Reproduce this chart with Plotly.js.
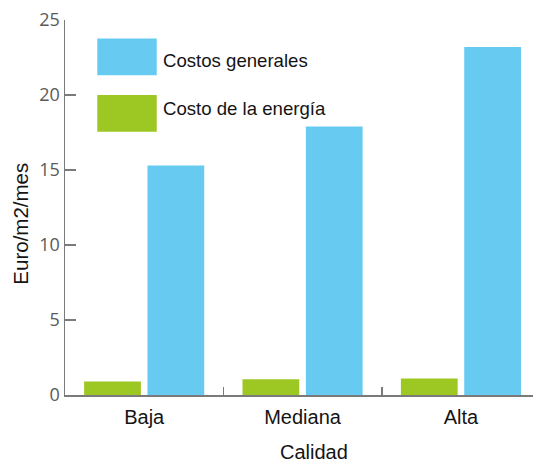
<!DOCTYPE html>
<html>
<head>
<meta charset="utf-8">
<script src="https://cdn.plot.ly/plotly-3.0.1.min.js"></script>
<style>
  html, body { margin: 0; padding: 0; background: #ffffff; }
  #chart { width: 535px; height: 462px; }
</style>
</head>
<body>
<div id="chart"></div>
<script>
// Calidad de la construcción
const categorias = ['Baja', 'Mediana', 'Alta'];

// Euro/m2/mes por categoría
const costoEnergia = [0.9, 1.05, 1.1];
const costosGenerales = [15.3, 17.9, 23.2];

const nombreEnergia = 'Costo de la energía';
const nombreGenerales = 'Costos generales';

const yTicks = [0, 5, 10, 15, 20, 25];

const AZUL = '#67cbf1';
const VERDE = '#9dc723';
const TEXTO = '#141414';
const EJE = '#7a7a7a';
const FUENTE = 'Liberation Sans, Arial, sans-serif';

const traces = [
  {
    type: 'bar',
    name: nombreEnergia,
    x: categorias,
    y: costoEnergia,
    marker: { color: VERDE, line: { width: 0 } },
    showlegend: false,
    hoverinfo: 'x+y+name'
  },
  {
    type: 'bar',
    name: nombreGenerales,
    x: categorias,
    y: costosGenerales,
    marker: { color: AZUL, line: { width: 0 } },
    showlegend: false,
    hoverinfo: 'x+y+name'
  }
];

// Leyenda dibujada con rectángulos grandes y texto a su derecha
const leyenda = [
  { nombre: nombreGenerales, color: AZUL, y0: 0.853, y1: 0.951, yt: 0.891 },
  { nombre: nombreEnergia, color: VERDE, y0: 0.702, y1: 0.800, yt: 0.763 }
];

const shapes = leyenda.map(l => ({
  type: 'rect', xref: 'paper', yref: 'paper',
  x0: 0.069, x1: 0.196, y0: l.y0, y1: l.y1,
  fillcolor: l.color, line: { width: 0 }
}));

const annotations = leyenda.map(l => ({
  xref: 'paper', yref: 'paper', x: 0.205, y: l.yt,
  xanchor: 'left', yanchor: 'middle', showarrow: false,
  text: l.nombre,
  font: { family: FUENTE, size: 18.6, color: TEXTO }
}));

annotations.push({
  xref: 'paper', yref: 'paper', x: -0.094, y: 0.457,
  xanchor: 'center', yanchor: 'middle', showarrow: false,
  textangle: -90,
  text: 'Euro/m2/mes',
  font: { family: FUENTE, size: 20.5, color: TEXTO }
});

annotations.push({
  xref: 'paper', yref: 'paper', x: 0.532, y: -0.151,
  xanchor: 'center', yanchor: 'middle', showarrow: false,
  text: 'Calidad',
  font: { family: FUENTE, size: 20, color: TEXTO }
});

const layout = {
  width: 535,
  height: 462,
  margin: { l: 65, r: 2, t: 20, b: 67, pad: 0 },
  paper_bgcolor: '#ffffff',
  plot_bgcolor: '#ffffff',
  barmode: 'group',
  bargap: 0.2,
  bargroupgap: 0.104,
  showlegend: false,
  xaxis: {
    type: 'category',
    range: [-0.5, 2.455],
    showline: true,
    linecolor: EJE,
    linewidth: 1.5,
    ticks: 'inside',
    tickson: 'boundaries',
    ticklen: 8,
    tickwidth: 1.5,
    tickcolor: EJE,
    showgrid: false,
    zeroline: false,
    ticklabelstandoff: 3,
    tickfont: { family: FUENTE, size: 20, color: TEXTO },
    fixedrange: true
  },
  yaxis: {
    range: [0, 25],
    tickvals: yTicks,
    ticktext: yTicks.map(String),
    showline: true,
    linecolor: EJE,
    linewidth: 1.5,
    ticks: 'inside',
    ticklen: 11,
    tickwidth: 1.5,
    tickcolor: EJE,
    showgrid: false,
    zeroline: false,
    tickfont: { family: 'Open Sans, sans-serif', size: 18, color: '#5a5a5a' },
    fixedrange: true
  },
  shapes: shapes,
  annotations: annotations
};

Plotly.newPlot('chart', traces, layout, { displayModeBar: false, staticPlot: true });
</script>
</body>
</html>
